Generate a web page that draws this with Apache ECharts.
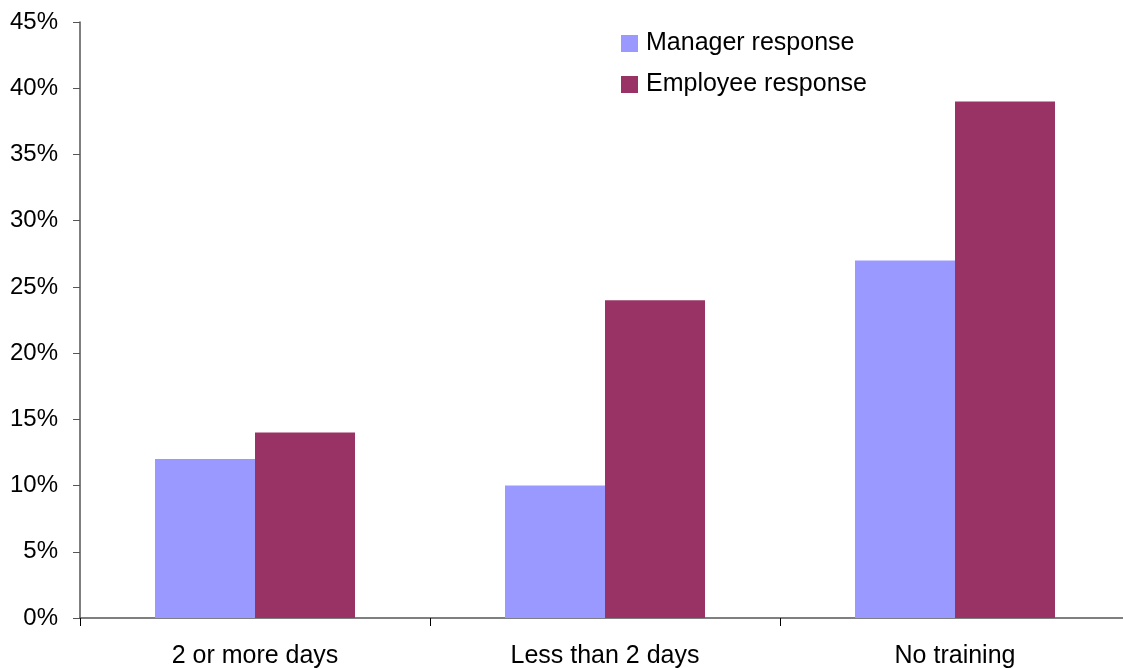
<!DOCTYPE html>
<html>
<head>
<meta charset="UTF-8"/>
<script src="https://cdn.jsdelivr.net/npm/echarts@6/dist/echarts.min.js"></script>
<style>
  html, body { margin: 0; padding: 0; background: #fff; }
  #chart { width: 1123px; height: 668px; }
</style>
</head>
<body>
<div id="chart"></div>
<script>
var categories = ['2 or more days', 'Less than 2 days', 'No training'];
var managerValues = [12, 10, 27];
var employeeValues = [14, 24, 39];
var seriesNames = ['Manager response', 'Employee response'];

var font = 'Liberation Sans, Arial, sans-serif';
var chart = echarts.init(document.getElementById('chart'));
chart.setOption({
    animation: false,
    backgroundColor: '#fff',
    legend: {
        orient: 'vertical',
        left: 616,
        top: 26,
        padding: 5,
        itemWidth: 17,
        itemHeight: 17,
        itemGap: 16,
        icon: 'rect',
        textStyle: { fontFamily: font, fontSize: 25, color: '#000', padding: [0, 0, 0, 3] },
        data: seriesNames
    },
    grid: { left: 80, top: 22, width: 1050, bottom: 50, outerBoundsMode: 'none' },
    xAxis: {
        type: 'category',
        data: categories,
        axisLine: { lineStyle: { color: '#555', width: 1.5 } },
        axisTick: { show: true, length: 8, alignWithLabel: false, lineStyle: { color: '#000' } },
        axisLabel: { fontFamily: font, fontSize: 25, color: '#000', margin: 26 }
    },
    yAxis: {
        type: 'value',
        min: 0,
        max: 45,
        interval: 5,
        splitLine: { show: false },
        axisLine: { show: true, lineStyle: { color: '#555', width: 1.5 } },
        axisTick: { show: true, length: 7, lineStyle: { color: '#555' } },
        axisLabel: { fontFamily: font, fontSize: 24, color: '#000', margin: 22, formatter: '{value}%' }
    },
    series: [
        { name: seriesNames[0], type: 'bar', data: managerValues, barWidth: 100, barGap: '0%', itemStyle: { color: '#9999FF' } },
        { name: seriesNames[1], type: 'bar', data: employeeValues, barWidth: 100, barGap: '0%', itemStyle: { color: '#993366' } }
    ]
});
</script>
</body>
</html>
